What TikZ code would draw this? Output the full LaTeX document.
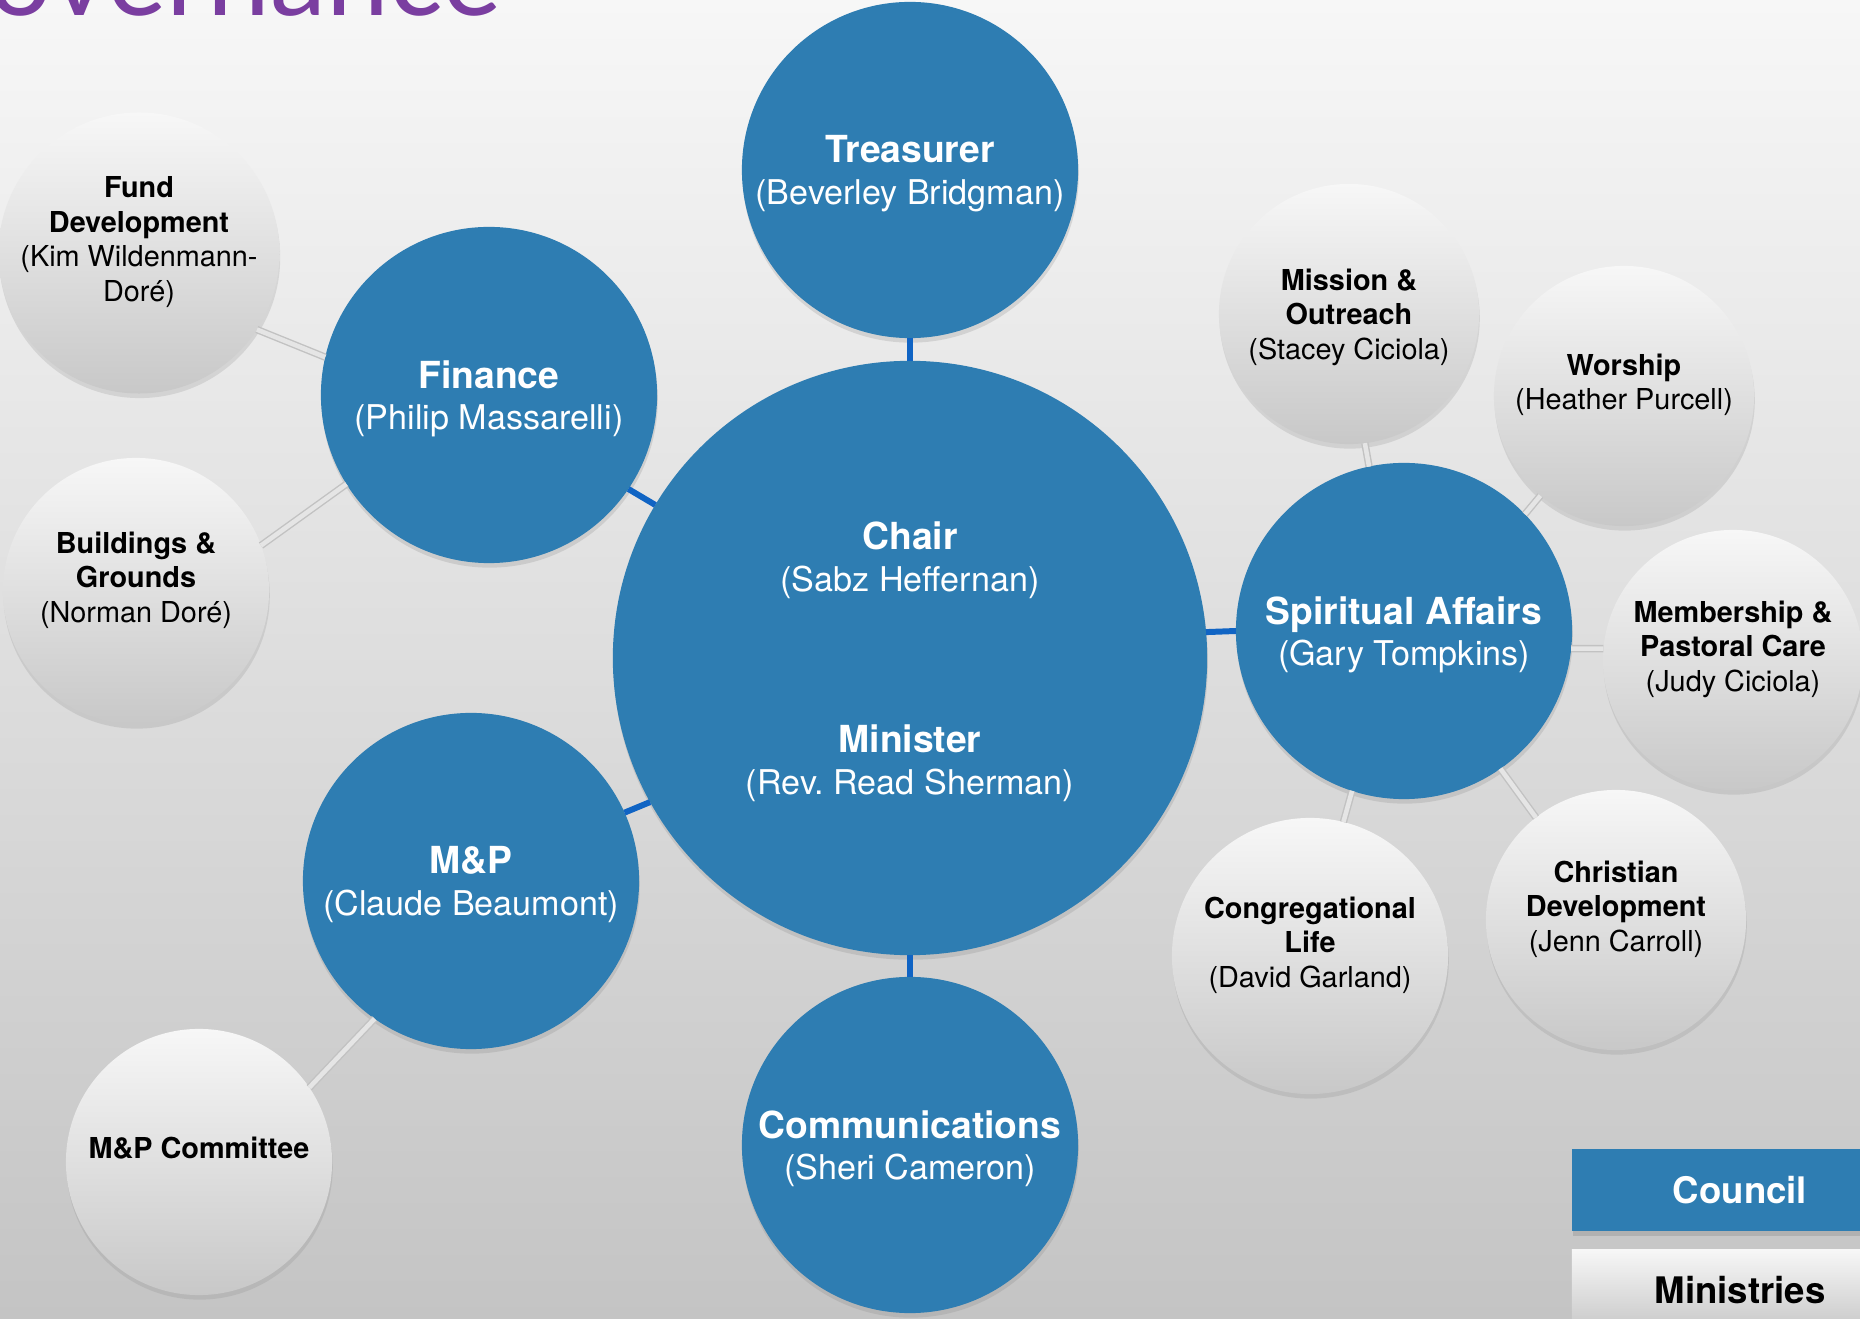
\documentclass[tikz,border=0pt]{standalone}
\usepackage{fontspec}
\setmainfont{TeX Gyre Heros}
\newfontfamily\titlefont{Lato}
\usetikzlibrary{shadows, positioning}

\definecolor{councilblue}{RGB}{46,125,178}
\definecolor{linkblue}{RGB}{16,100,196}
\definecolor{titlepurple}{RGB}{122,62,160}
\definecolor{bgtop}{RGB}{247,247,247}
\definecolor{bgbottom}{RGB}{196,196,196}
\definecolor{ministrytop}{RGB}{247,247,247}
\definecolor{ministrybottom}{RGB}{200,200,200}

\newcommand{\rolename}[1]{{\bfseries\fontsize{10.6}{11.8}\selectfont #1}}
\frenchspacing

\begin{document}
\begin{tikzpicture}[x=0.01cm, y=-0.01cm,
    council/.style={circle, fill=councilblue, text=white, inner sep=0pt, outer sep=0pt, align=center,
        text depth=0pt, font=\fontsize{9.7}{11.8}\selectfont,
        drop shadow={opacity=0.22, shadow xshift=0.2pt, shadow yshift=-1.3pt}},
    ministry/.style={circle, top color=ministrytop, bottom color=ministrybottom, text=black, inner sep=0pt,
        outer sep=0pt, align=center, text depth=0.28cm, font=\fontsize{8.2}{9.8}\selectfont,
        drop shadow={opacity=0.2, shadow xshift=0.2pt, shadow yshift=-1.3pt}},
    council link/.style={draw=linkblue, line width=1.7pt},
    ministry link/.style={draw=black!24, double=white!90!black, double distance=1.3pt, line width=0.4pt},
    legend/.style={rectangle, minimum width=3.36cm, minimum height=0.81cm, inner sep=0pt,
        font=\bfseries\fontsize{10.4}{11.4}\selectfont}]

    \useasboundingbox (0,0) rectangle (1860,1319);
    \clip (0,0) rectangle (1860,1319);
    \fill[top color=bgtop, bottom color=bgbottom] (0,0) rectangle (1860,1319);

    % Title
    \node[anchor=base east, inner sep=0pt, text=titlepurple, font=\titlefont\fontsize{32}{32}\selectfont] (heading) at (502,16) {Governance};

    % Nodes
    \node[council, minimum size=5.94cm] (chair) at (910,658) {\rolename{Chair}\\(Sabz Heffernan)\\[1.2cm]\rolename{Minister}\\(Rev. Read Sherman)};
    \node[council, minimum size=3.36cm] (treasurer) at (910,170) {\rolename{Treasurer}\\(Beverley Bridgman)};
    \node[council, minimum size=3.36cm] (finance) at (489,395) {\rolename{Finance}\\(Philip Massarelli)};
    \node[council, minimum size=3.36cm] (mp) at (471,881) {\rolename{M\&P}\\(Claude Beaumont)};
    \node[council, minimum size=3.36cm] (comms) at (910,1145) {\rolename{Communications}\\(Sheri Cameron)};
    \node[council, minimum size=3.36cm] (spiritual) at (1404,631) {\rolename{Spiritual Affairs}\\(Gary Tompkins)};

    \node[ministry, minimum size=2.66cm] (fund) at (139,253) {\textbf{Fund}\\\textbf{Development}\\(Kim Wildenmann-\\Doré)};
    \node[ministry, minimum size=2.66cm] (buildings) at (136,591) {\textbf{Buildings \&}\\\textbf{Grounds}\\(Norman Doré)};
    \node[ministry, minimum size=2.66cm] (mpcomm) at (199,1162) {\textbf{M\&P Committee}};
    \node[ministry, minimum size=2.6cm, text depth=0pt] (mission) at (1349,314) {\textbf{Mission \&}\\\textbf{Outreach}\\(Stacey Ciciola)};
    \node[ministry, minimum size=2.6cm] (worship) at (1624,396) {\textbf{Worship}\\(Heather Purcell)};
    \node[ministry, minimum size=2.6cm] (membership) at (1733,660) {\textbf{Membership \&}\\\textbf{Pastoral Care}\\(Judy Ciciola)};
    \node[ministry, minimum size=2.6cm] (christian) at (1616,920) {\textbf{Christian}\\\textbf{Development}\\(Jenn Carroll)};
    \node[ministry, minimum size=2.76cm] (congregational) at (1310,956) {\textbf{Congregational}\\\textbf{Life}\\(David Garland)};

    % Edges
    \draw[council link] (treasurer.south) -- (chair.north);
    \draw[council link] (finance.-34) -- (chair.149);
    \draw[council link] (mp.24) -- (chair.209);
    \draw[council link] (chair.south) -- (comms.north);
    \draw[council link] (chair.5) -- (spiritual.west);

    \draw[ministry link] (fund.-33) -- (finance.167);
    \draw[ministry link] (buildings.20) -- (finance.212);
    \draw[ministry link] (mpcomm.34) -- (mp.235);
    \draw[ministry link] (mission.-83) -- (spiritual.102);
    \draw[ministry link] (worship.230) -- (spiritual.44);
    \draw[ministry link] (membership.175) -- (spiritual.-6);
    \draw[ministry link] (christian.128) -- (spiritual.-55);
    \draw[ministry link] (congregational.76) -- (spiritual.-108);

    % Legend
    \node[legend, fill=councilblue, text=white, drop shadow={opacity=0.3, shadow xshift=0.4pt, shadow yshift=-1.5pt}] (council key) at (1740,1190) {Council};
    \node[legend, top color=ministrytop, bottom color=ministrybottom, text=black] (ministry key) at (1740,1290) {Ministries};

\end{tikzpicture}
\end{document}
